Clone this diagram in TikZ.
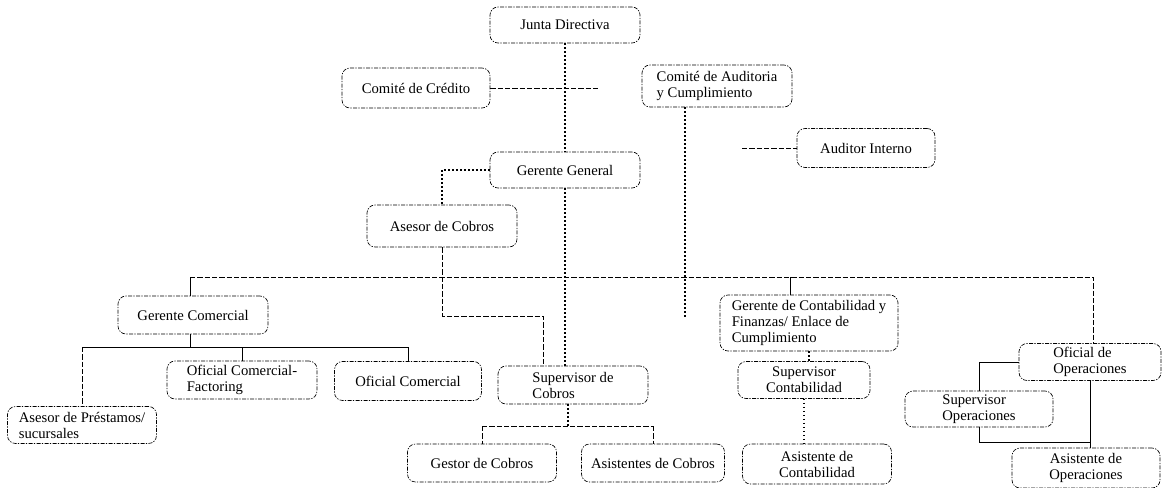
\documentclass[tikz,border=0pt]{standalone}
\usepackage{fontspec}
\setmainfont{Liberation Serif}
\usetikzlibrary{calc}

\begin{document}
\begin{tikzpicture}[x=0.75pt,y=-0.75pt]
\tikzset{
    node style org/.style={draw,rectangle,rounded corners=6pt,line width=0.5pt,dash pattern=on 3pt off 1pt on 1pt off 1pt,font=\fontsize{11}{12}\selectfont,inner sep=2pt,align=center},
    boxsize/.style 2 args={minimum width=#1*0.75pt,minimum height=#2*0.75pt},
    line dot/.style={draw,line width=0.8pt,dash pattern=on 1pt off 2pt},
    line dash/.style={draw,line width=0.5pt,dash pattern=on 4pt off 1.5pt},
    line solid/.style={draw,line width=0.7pt}
    %line plain/.style={draw,thin},
}
\useasboundingbox (0,0) rectangle (1162,488);

  % upper levels
  \node[node style org,boxsize={150}{36}] (junta) at (565,25) {Junta Directiva};
  \node[node style org,boxsize={148}{40}] (credito) at (416,88) {Comité de Crédito};
  \node[node style org,boxsize={150}{42},align=left] (auditoria) at (717,86) {Comité de Auditoria\\y Cumplimiento};
  \node[node style org,boxsize={138}{39}] (auditor) at (866,148) {Auditor Interno};
  \node[node style org,boxsize={150}{36}] (gergen) at (565,170) {Gerente General};
  \node[node style org,boxsize={150}{42}] (asecob) at (442,226) {Asesor de Cobros};

  % managers
  \node[node style org,boxsize={178}{56},align=left] (gercont) at (809,323) {Gerente de Contabilidad y\\Finanzas/ Enlace de\\Cumplimiento};
  \node[node style org,boxsize={150}{38}] (gercom) at (193,315) {Gerente Comercial};
  \node[node style org,boxsize={142}{37},align=left] (ofop) at (1090,362) {Oficial de\\Operaciones};

  % staff
  \node[node style org,boxsize={150}{38},align=left] (ofcomfac) at (242,380) {Oficial Comercial-\\Factoring};
  \node[node style org,boxsize={147}{39}] (ofcom) at (408,381) {Oficial Comercial};
  \node[node style org,boxsize={150}{38},align=left] (supcob) at (573,385) {Supervisor de\\Cobros};
  \node[node style org,boxsize={132}{37}] (supcont) at (804,380) {Supervisor\\Contabilidad};
  \node[node style org,boxsize={148}{36},align=left] (supop) at (979,409) {Supervisor\\Operaciones};
  \node[node style org,boxsize={149}{37},align=left] (aseprest) at (82,425) {Asesor de Préstamos/\\sucursales};
  \node[node style org,boxsize={149}{38}] (gestor) at (482,463) {Gestor de Cobros};
  \node[node style org,boxsize={143}{38}] (asicob) at (653,463) {Asistentes de Cobros};
  \node[node style org,boxsize={149}{40}] (asicont) at (817,464) {Asistente de\\Contabilidad};
  \node[node style org,boxsize={148}{40}] (asiop) at (1086,468) {Asistente de\\Operaciones};

  \coordinate (crfree) at (598,88);
  \coordinate (audend) at (685,319);
  \coordinate (audleft) at (742,148);
  \coordinate (busL) at (190,277);
  \coordinate (busR) at (1093,277);
  \coordinate (acb) at (442,316);
  \coordinate (acc) at (543,316);
  \coordinate (cb) at (190,347);
  \coordinate (sb) at (568,426);
  \coordinate (ob) at (1090,442);

  \path[line dot]
    (junta) -- (gergen)
    (gergen.south) -- (gergen.south |- supcob.north)
    (gergen.west) -| (asecob.north)
    (audend |- auditoria.south) -- (audend)
    (supcob.south -| sb) -- (sb)
    (gercont.south) -- (gercont.south |- supcont.north)
    (supcont.south) -- (supcont.south |- asicont.north);
  \path[line dash]
    (credito.east) -- (crfree)
    (audleft) -- (auditor.west)
    (busL) -- (busR) -- (busR |- ofop.north)
    (asecob.south) -- (acb) -- (acc) -- (acc |- supcob.north)
    (gestor.north |- sb) -- (asicob.north |- sb)
    (gestor.north |- sb) -- (gestor.north)
    (asicob.north |- sb) -- (asicob.north)
    (aseprest.north |- cb) -- (aseprest.north);
  \path[line solid]
    (busL) -- (busL |- gercom.north)
    (gercom.south -| cb) -- (cb)
    (aseprest.north |- cb) -- (ofcom.north |- cb)
    (ofcomfac.north |- cb) -- (ofcomfac.north)
    (ofcom.north |- cb) -- (ofcom.north)
    (busL -| 790,0) -- (gercont.north -| 790,0)
    (ofop.west) -| (supop.north)
    (ofop.south) -- (ofop.south |- asiop.north)
    (supop.south) |- (ob);
\end{tikzpicture}
\end{document}
